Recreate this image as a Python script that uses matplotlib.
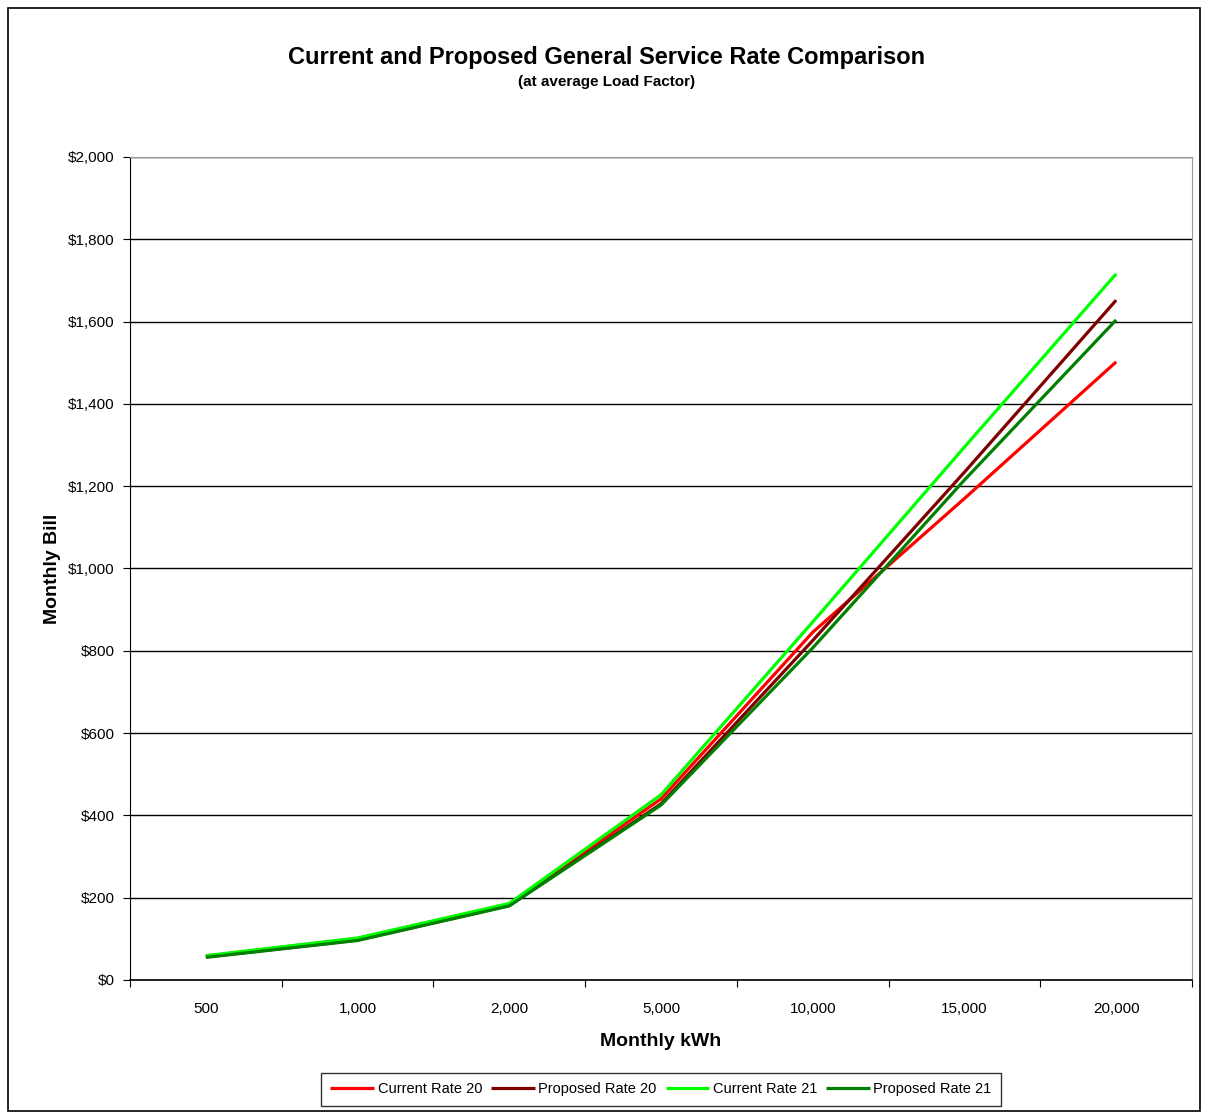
import numpy as np
import matplotlib.pyplot as plt
from matplotlib.patches import Rectangle

plt.rcParams['font.family'] = ['Liberation Sans', 'DejaVu Sans']

# monthly kWh categories
kwh = ["500", "1,000", "2,000", "5,000", "10,000", "15,000", "20,000"]
# monthly bill ($)
current20 = [58, 101, 184, 440, 845, 1170, 1502]
proposed20 = [56, 97, 181, 428, 825, 1234, 1652]
current21 = [59, 102, 186, 450, 870, 1295, 1716]
proposed21 = [55, 96, 180, 425, 807, 1215, 1604]

series = [("Current Rate 20", current20, "#FF0000"),
          ("Proposed Rate 20", proposed20, "#800000"),
          ("Current Rate 21", current21, "#00FF00"),
          ("Proposed Rate 21", proposed21, "#008000")]

fig = plt.figure(figsize=(12.06, 11.14), dpi=100)
ax = fig.add_axes([0.1078, 0.1203, 0.8806, 0.7388])

x = np.arange(len(kwh))
for name, vals, col in series:
    ax.plot(x, vals, color=col, lw=2.3, label=name, solid_capstyle="butt")

ax.set_xlim(-0.5, len(kwh) - 0.5)
ax.set_ylim(0, 2000)
ax.set_yticks(np.arange(0, 2001, 200))
ax.set_yticklabels([f"${v:,}" for v in range(0, 2001, 200)], fontsize=11)
ax.yaxis.grid(True, color="black", lw=1)
ax.set_axisbelow(True)

# category boundaries as major ticks, labels on minor ticks
ax.set_xticks(np.arange(-0.5, len(kwh), 1))
ax.set_xticklabels([])
ax.set_xticks(x, minor=True)
ax.set_xticklabels(kwh, minor=True, fontsize=11)
ax.tick_params(axis="x", which="minor", length=0, pad=16)
ax.tick_params(axis="x", which="major", length=5, color="black")
ax.tick_params(axis="y", length=5, pad=6)

ax.spines["top"].set_color("#999999")
ax.spines["right"].set_color("#999999")
ax.spines["left"].set_color("black")
ax.spines["bottom"].set_color("black")
ax.spines["bottom"].set_linewidth(1.2)

ax.set_xlabel("Monthly kWh", fontsize=14, fontweight="bold", labelpad=12)
ax.set_ylabel("Monthly Bill", fontsize=14, fontweight="bold", labelpad=5)

fig.text(0.503, 0.948, "Current and Proposed General Service Rate Comparison",
         ha="center", va="center", fontsize=17, fontweight="bold")
fig.text(0.503, 0.926, "(at average Load Factor)",
         ha="center", va="center", fontsize=11, fontweight="bold")

leg = ax.legend(loc="center", bbox_to_anchor=(0.5, -0.133), ncol=4,
                frameon=True, fancybox=False, edgecolor="black", fontsize=10.5,
                handlelength=3.0, handletextpad=0.25, columnspacing=0.6,
                borderpad=0.65)
leg.get_frame().set_linewidth(1)

fig.patches.append(Rectangle((0.007, 0.003), 0.988, 0.99, transform=fig.transFigure,
                             fill=False, edgecolor="black", lw=1.2))

fig.savefig("out.png", dpi=100)
